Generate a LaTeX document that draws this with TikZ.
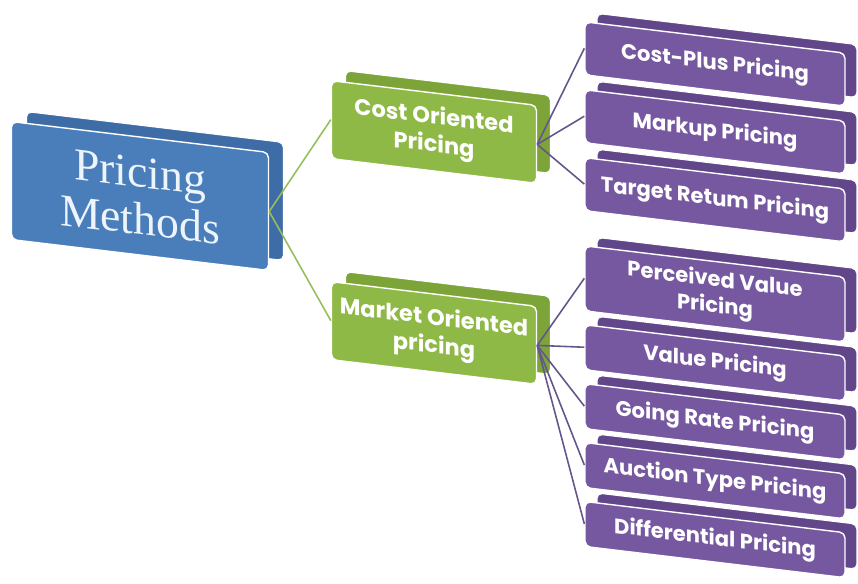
\documentclass[tikz,border=0pt]{standalone}
\usepackage{fontspec}
\usepackage{tikz}
\usetikzlibrary{positioning,shadows}
\newfontfamily\boxfont{Poppins}
\newfontfamily\rootfont{Liberation Serif}
\definecolor{rootblue}{RGB}{74,126,187}
\definecolor{rootside}{RGB}{62,108,166}
\definecolor{roottext}{RGB}{238,244,252}
\definecolor{groupgreen}{RGB}{143,185,70}
\definecolor{groupside}{RGB}{124,164,56}
\definecolor{methodpurple}{RGB}{118,88,160}
\definecolor{methodside}{RGB}{98,70,138}
\definecolor{linkgreen}{RGB}{150,190,90}
\definecolor{linkpurple}{RGB}{100,86,140}

\begin{document}
\begin{tikzpicture}[x=0.02cm, y=-0.02cm, node distance=0.27cm]
\tikzstyle{block}=[rectangle, rounded corners=3pt, draw=white, line width=0.8pt, yslant=-0.12, transform shape, text=white, align=center, inner sep=1pt]
\tikzstyle{root}=[block, fill=rootblue, minimum width=5.14cm, minimum height=2.36cm, text=roottext, font=\rootfont\fontsize{26}{27}\selectfont, general shadow={fill=rootside, draw=white, line width=0.6pt, shadow xshift=0.3cm, shadow yshift=0.2cm}]
\tikzstyle{group}=[block, fill=groupgreen, minimum width=4.1cm, minimum height=1.56cm, font=\boxfont\bfseries\fontsize{12.8}{16}\selectfont, general shadow={fill=groupside, draw=white, line width=0.6pt, shadow xshift=0.28cm, shadow yshift=0.2cm}]
\tikzstyle{method}=[block, fill=methodpurple, minimum width=5.2cm, minimum height=1.06cm, font=\boxfont\bfseries\fontsize{12}{15}\selectfont, general shadow={fill=methodside, draw=white, line width=0.6pt, shadow xshift=0.24cm, shadow yshift=0.17cm}]
\tikzstyle{greenlink}=[draw=linkgreen, line width=0.9pt]
\tikzstyle{purplelink}=[draw=linkpurple, line width=0.9pt]
\useasboundingbox (0,0) rectangle (858,583);

  \node[root] (pm) at (140,196) {Pricing\\Methods};

  \node[group] (cost) at (434,132) {Cost Oriented\\Pricing};
  \node[group] (market) at (434,333) {Market Oriented\\pricing};

  \node[method] (cp) at (715,64) {Cost-Plus Pricing};
  \node[method] (mk) [below=of cp] {Markup Pricing};
  \node[method] (tr) [below=of mk] {Target Retum Pricing};

  \node[method, minimum height=1.3cm] (pv) at (715,294) {Perceived Value\\Pricing};
  \node[method, minimum height=0.9cm] (vp) [below=0.25cm of pv] {Value Pricing};
  \node[method, minimum height=0.9cm] (gr) [below=0.25cm of vp] {Going Rate Pricing};
  \node[method, minimum height=0.9cm] (at) [below=0.25cm of gr] {Auction Type Pricing};
  \node[method, minimum height=0.9cm] (dp) [below=0.25cm of at] {Differential Pricing};

  \path (pm.east) edge [greenlink] (cost.west);
  \path (pm.east) edge [greenlink] (market.west);

  \path (cost.east) edge [purplelink] (cp.west);
  \path (cost.east) edge [purplelink] (mk.west);
  \path (cost.east) edge [purplelink] (tr.west);

  \path (market.east) edge [purplelink] (pv.west);
  \path (market.east) edge [purplelink] (vp.west);
  \path (market.east) edge [purplelink] (gr.west);
  \path (market.east) edge [purplelink] (at.west);
  \path (market.east) edge [purplelink] (dp.west);
\end{tikzpicture}
\end{document}
